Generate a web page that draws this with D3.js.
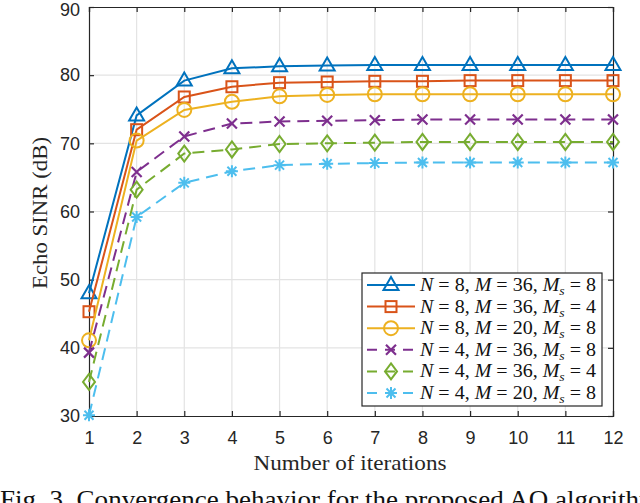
<!DOCTYPE html>
<html>
<head>
<meta charset="utf-8">
<script src="https://cdn.jsdelivr.net/npm/d3@7"></script>
<style>
  body { margin: 0; background: #fff; }
  svg { display: block; }
</style>
</head>
<body>
<svg></svg>
<script>
var svg = d3.select("svg");

var svgWidth = 640,
    svgHeight = 503,
    margin = {top: 7, right: 27, bottom: 87, left: 89},
    width = svgWidth - margin.left - margin.right,
    height = svgHeight - margin.top - margin.bottom;

svg.attr("width", svgWidth).attr("height", svgHeight);

// data
var iterations = [1, 2, 3, 4, 5, 6, 7, 8, 9, 10, 11, 12];
var yTicks = [30, 40, 50, 60, 70, 80, 90];

var n8m36ms8 = [48.0, 74.1, 79.2, 81.0, 81.3, 81.4, 81.5, 81.5, 81.5, 81.5, 81.5, 81.5];
var n8m36ms4 = [45.3, 72.0, 76.8, 78.3, 78.9, 79.0, 79.1, 79.1, 79.2, 79.2, 79.2, 79.2];
var n8m20ms8 = [41.1, 70.4, 74.9, 76.1, 76.9, 77.1, 77.2, 77.2, 77.2, 77.2, 77.2, 77.2];
var n4m36ms8 = [39.3, 65.8, 71.0, 72.9, 73.2, 73.3, 73.4, 73.5, 73.5, 73.5, 73.5, 73.5];
var n4m36ms4 = [35.0, 63.2, 68.5, 69.1, 69.9, 70.0, 70.1, 70.2, 70.2, 70.2, 70.2, 70.2];
var n4m20ms8 = [30.1, 59.2, 64.2, 65.9, 66.8, 67.0, 67.1, 67.2, 67.2, 67.2, 67.2, 67.2];

var seriesNames = [
  ["8", "36", "8"], ["8", "36", "4"], ["8", "20", "8"],
  ["4", "36", "8"], ["4", "36", "4"], ["4", "20", "8"]
];

var series = [
  {values: n8m36ms8, name: seriesNames[0], color: "#0072BD", dash: null, marker: "triangle"},
  {values: n8m36ms4, name: seriesNames[1], color: "#D95319", dash: null, marker: "square"},
  {values: n8m20ms8, name: seriesNames[2], color: "#EDB120", dash: null, marker: "circle"},
  {values: n4m36ms8, name: seriesNames[3], color: "#7E2F8E", dash: "12,7", marker: "x"},
  {values: n4m36ms4, name: seriesNames[4], color: "#77AC30", dash: "12,7", marker: "diamond"},
  {values: n4m20ms8, name: seriesNames[5], color: "#4DBEEE", dash: "12,7", marker: "asterisk"}
];

// setup scales
var xScale = d3.scaleLinear().domain([1, 12]).range([0, width]);
var yScale = d3.scaleLinear().domain([30, 90]).range([height, 0]);

var group = svg.append("g").attr("transform", "translate(" + margin.left + "," + margin.top + ")");

// grid
group.append("g").selectAll("line.gx")
  .data(iterations.slice(1, -1)).enter().append("line")
  .attr("x1", function(d) { return xScale(d); })
  .attr("x2", function(d) { return xScale(d); })
  .attr("y1", 0).attr("y2", height)
  .attr("stroke", "#e3e3e3").attr("stroke-width", 1.2);
group.append("g").selectAll("line.gy")
  .data(yTicks.slice(1, -1)).enter().append("line")
  .attr("y1", function(d) { return yScale(d); })
  .attr("y2", function(d) { return yScale(d); })
  .attr("x1", 0).attr("x2", width)
  .attr("stroke", "#e3e3e3").attr("stroke-width", 1.2);

// axes (ticks inward, box on all sides)
var xAxis = d3.axisBottom(xScale).tickValues(iterations).tickSize(-5).tickPadding(15).tickFormat(d3.format("d"));
var yAxis = d3.axisLeft(yScale).tickValues(yTicks).tickSize(-5).tickPadding(9);
var xAxisTop = d3.axisTop(xScale).tickValues(iterations).tickSize(-5).tickFormat("");
var yAxisRight = d3.axisRight(yScale).tickValues(yTicks).tickSize(-5).tickFormat("");

function styleAxis(g) {
  g.select(".domain").attr("stroke", "#262626").attr("stroke-width", 1.2);
  g.selectAll(".tick line").attr("stroke", "#262626").attr("stroke-width", 1.2);
  g.selectAll(".tick text").attr("fill", "#262626")
    .style("font-family", "'Liberation Sans', Arial, sans-serif").style("font-size", "18px");
}

group.append("g").attr("transform", "translate(0," + height + ")").call(xAxis).call(styleAxis);
group.append("g").call(yAxis).call(styleAxis);
group.append("g").call(xAxisTop).call(styleAxis);
group.append("g").attr("transform", "translate(" + width + ",0)").call(yAxisRight).call(styleAxis);

// keep the top label "90" inside the picture
group.selectAll(".tick text").filter(function(d) { return d === 90; }).attr("dy", "0.45em");

// markers
function drawMarker(sel, type, color) {
  sel.each(function() {
    var m = d3.select(this);
    if (type === "triangle") {
      m.append("path").attr("d", "M0,-8 L7.5,5 L-7.5,5 Z")
        .attr("fill", "none").attr("stroke", color).attr("stroke-width", 2);
    } else if (type === "square") {
      m.append("rect").attr("x", -5.5).attr("y", -5.5).attr("width", 11).attr("height", 11)
        .attr("fill", "none").attr("stroke", color).attr("stroke-width", 2);
    } else if (type === "circle") {
      m.append("circle").attr("r", 7)
        .attr("fill", "none").attr("stroke", color).attr("stroke-width", 2);
    } else if (type === "x") {
      m.append("path").attr("d", "M-5,-5 L5,5 M-5,5 L5,-5")
        .attr("fill", "none").attr("stroke", color).attr("stroke-width", 2.2);
    } else if (type === "diamond") {
      m.append("path").attr("d", "M0,-8 L6,0 L0,8 L-6,0 Z")
        .attr("fill", "none").attr("stroke", color).attr("stroke-width", 2);
    } else if (type === "asterisk") {
      m.append("path").attr("d", "M-6,0 L6,0 M0,-6 L0,6 M-4.5,-4.5 L4.5,4.5 M-4.5,4.5 L4.5,-4.5")
        .attr("fill", "none").attr("stroke", color).attr("stroke-width", 2);
    }
  });
}

var line = d3.line()
  .x(function(d, i) { return xScale(iterations[i]); })
  .y(function(d) { return yScale(d); });

series.forEach(function(s) {
  group.append("path")
    .datum(s.values)
    .attr("d", line)
    .attr("fill", "none")
    .attr("stroke", s.color)
    .attr("stroke-width", 2)
    .attr("stroke-dasharray", s.dash);
  var pts = group.append("g").selectAll("g")
    .data(s.values).enter().append("g")
    .attr("transform", function(d, i) { return "translate(" + xScale(iterations[i]) + "," + yScale(d) + ")"; });
  drawMarker(pts, s.marker, s.color);
});

// axis labels
svg.append("text")
  .attr("x", margin.left + width / 2 - 1).attr("y", 470)
  .attr("text-anchor", "middle")
  .attr("textLength", 193).attr("lengthAdjust", "spacingAndGlyphs")
  .style("font-family", "'Liberation Serif', 'DejaVu Serif', serif").style("font-size", "22px")
  .attr("fill", "#262626")
  .text("Number of iterations");

svg.append("text")
  .attr("transform", "translate(47," + 213 + ") rotate(-90)")
  .attr("text-anchor", "middle")
  .attr("textLength", 152).attr("lengthAdjust", "spacingAndGlyphs")
  .style("font-family", "'Liberation Serif', 'DejaVu Serif', serif").style("font-size", "22px")
  .attr("fill", "#262626")
  .text("Echo SINR (dB)");

// legend
var legend = svg.append("g").attr("transform", "translate(362,273)");
legend.append("rect").attr("width", 240).attr("height", 133)
  .attr("fill", "#fff").attr("stroke", "#262626").attr("stroke-width", 1.2);

series.forEach(function(s, i) {
  var row = legend.append("g").attr("transform", "translate(0," + (12 + i * 21.6) + ")");
  row.append("line").attr("x1", 5).attr("x2", 53).attr("y1", 0).attr("y2", 0)
    .attr("stroke", s.color).attr("stroke-width", 2).attr("stroke-dasharray", s.dash ? "10,8" : null);
  drawMarker(row.append("g").attr("transform", "translate(29,0)"), s.marker, s.color);
  var t = row.append("text").attr("x", 58).attr("y", 6)
    .attr("textLength", 176).attr("lengthAdjust", "spacingAndGlyphs")
    .style("font-family", "'Liberation Serif', 'DejaVu Serif', serif").style("font-size", "19px")
    .attr("fill", "#111");
  t.append("tspan").style("font-style", "italic").text("N");
  t.append("tspan").text(" = " + s.name[0] + ", ");
  t.append("tspan").style("font-style", "italic").text("M");
  t.append("tspan").text(" = " + s.name[1] + ", ");
  t.append("tspan").style("font-style", "italic").text("M");
  t.append("tspan").style("font-style", "italic").style("font-size", "13px").attr("dy", 4).text("s");
  t.append("tspan").attr("dy", -4).text(" = " + s.name[2]);
});

// caption (cut off at bottom in the original)
svg.append("text")
  .attr("x", 0).attr("y", 508)
  .attr("textLength", 660).attr("lengthAdjust", "spacingAndGlyphs")
  .style("font-family", "'Liberation Serif', 'DejaVu Serif', serif").style("font-size", "26px")
  .attr("fill", "#111")
  .text("Fig. 3.  Convergence behavior for the proposed AO algorithm");
</script>
</body>
</html>
